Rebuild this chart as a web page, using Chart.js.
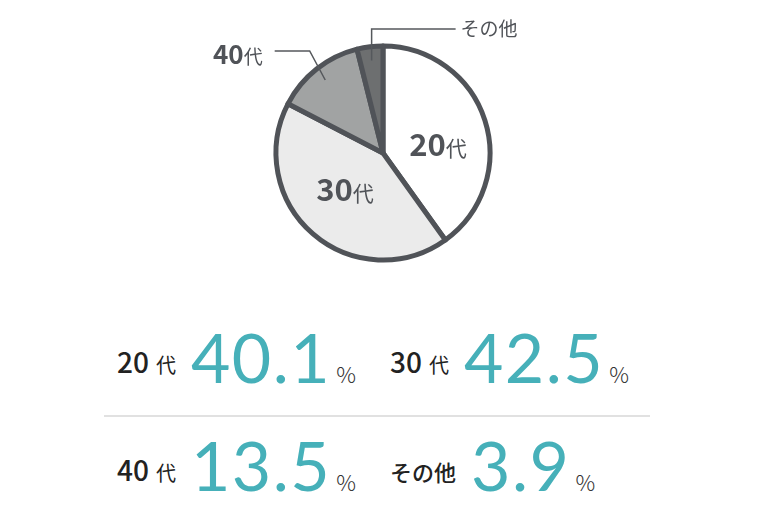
<!DOCTYPE html>
<html><head><meta charset="utf-8">
<script src="https://cdn.jsdelivr.net/npm/chart.js@4/dist/chart.umd.min.js"></script>
<style>
html,body{margin:0;padding:0;background:#fff;width:760px;height:532px;overflow:hidden;font-family:"Noto Sans CJK JP","Noto Sans",sans-serif;}
#wrap{position:absolute;left:0;top:0;width:760px;height:300px;}
.cell{position:absolute;display:flex;align-items:baseline;white-space:nowrap;line-height:1;}
.lab{color:#222;position:relative;}
.lab b{font-weight:500;font-size:28px;}
.lab small{font-size:20px;margin-left:7px;font-weight:400;}
.lab .kana{font-size:22px;font-weight:500;}
.num{font-family:Lato,sans-serif;font-weight:400;font-size:68px;color:#46b0b9;margin-left:15px;letter-spacing:1.5px;}
.pct{font-size:22px;color:#333;margin-left:5px;font-family:"Noto Sans CJK JP",sans-serif;font-weight:300;}
#divider{position:absolute;left:104px;top:415px;width:546px;height:2px;background:#e1e1e1;}
</style></head>
<body>
<div id="wrap"><canvas id="c" width="760" height="300"></canvas></div>
<div id="divider"></div>
<div id="stats"></div>
<script>
// ---- data ----
const categories = ['20代', '30代', '40代', 'その他'];
const shares = [40.1, 42.5, 13.5, 3.9];
const shareLabels = ['40.1', '42.5', '13.5', '3.9'];
const percentSign = '%';

// ---- styles ----
const sliceColors = ['#ffffff', '#ebebeb', '#a1a3a3', '#6d6f70'];
const edgeColor = '#505358';
const labelModes = ['inside', 'inside', 'left', 'up'];
const insideOffsets = [[4, 8], [-3, -3], [0, 0], [0, 0]];
const elbowOffsets = [[0, 0], [0, 0], [5, -3], [0, 0]];
const cellPos = [[117, 0], [390, 0], [117, 1], [390, 1]];
const rowTops = [323, 431];
const labelLift = [10, 10];

function splitLabel(s){
  const m = s.match(/^(\d+)(.*)$/);
  return m ? [m[1], m[2]] : ['', s];
}

const labelPlugin = {
  id: 'pieLabels',
  afterDatasetsDraw(chart){
    const ctx = chart.ctx;
    const meta = chart.getDatasetMeta(0);
    meta.data.forEach((arc, i) => {
      const p = arc.getProps(['x','y','startAngle','endAngle','outerRadius'], true);
      const a = (p.startAngle + p.endAngle) / 2;
      const R = p.outerRadius;
      const pt = r => ({x: p.x + r * Math.cos(a), y: p.y + r * Math.sin(a)});
      const [num, suf] = splitLabel(categories[i]);
      ctx.save();
      ctx.fillStyle = edgeColor;
      ctx.strokeStyle = '#55585c';
      ctx.lineWidth = 1.5;
      ctx.textBaseline = 'alphabetic';
      const mode = labelModes[i];
      if (mode === 'inside') {
        const c = pt(0.5 * R);
        const cx = c.x + insideOffsets[i][0], cy = c.y + insideOffsets[i][1];
        ctx.font = 'bold 31px "Noto Sans CJK JP"';
        const w1 = ctx.measureText(num).width;
        ctx.font = '21px "Noto Sans CJK JP"';
        const w2 = ctx.measureText(suf).width;
        const x0 = cx - (w1 + w2) / 2;
        const base = cy + 11;
        ctx.font = 'bold 31px "Noto Sans CJK JP"';
        ctx.textAlign = 'left';
        ctx.fillText(num, x0, base);
        ctx.font = '21px "Noto Sans CJK JP"';
        ctx.fillText(suf, x0 + w1, base);
      } else if (mode === 'left') {
        const p0 = pt(0.87 * R), q = pt(1.18 * R);
        const p1 = {x: q.x + elbowOffsets[i][0], y: q.y + elbowOffsets[i][1]};
        const p2 = {x: p1.x - 35, y: p1.y};
        ctx.beginPath(); ctx.moveTo(p0.x, p0.y); ctx.lineTo(p1.x, p1.y); ctx.lineTo(p2.x, p2.y); ctx.stroke();
        ctx.font = '19px "Noto Sans CJK JP"';
        const w2 = ctx.measureText(suf).width;
        ctx.textAlign = 'right';
        const base = p2.y + 13;
        ctx.fillText(suf, p2.x - 12, base);
        ctx.font = 'bold 26px "Noto Sans CJK JP"';
        ctx.fillText(num, p2.x - 12 - w2, base);
      } else if (mode === 'up') {
        const p0 = pt(0.87 * R);
        const p1 = {x: p0.x, y: p.y - 1.16 * R};
        const p2 = {x: p1.x + 84, y: p1.y};
        ctx.beginPath(); ctx.moveTo(p0.x, p0.y); ctx.lineTo(p1.x, p1.y); ctx.lineTo(p2.x, p2.y); ctx.stroke();
        ctx.font = '19px "Noto Sans CJK JP"';
        ctx.textAlign = 'left';
        ctx.textBaseline = 'middle';
        ctx.fillText(categories[i], p2.x + 5, p2.y);
      }
      ctx.restore();
    });
  }
};

new Chart(document.getElementById('c'), {
  type: 'pie',
  data: {
    labels: categories,
    datasets: [{
      data: shares,
      backgroundColor: sliceColors,
      borderColor: edgeColor,
      borderWidth: 5,
      borderJoinStyle: 'round'
    }]
  },
  options: {
    responsive: false,
    animation: false,
    radius: 107,
    layout: {padding: {left: 6, top: 6}},
    plugins: {legend: {display: false}, tooltip: {enabled: false}}
  },
  plugins: [labelPlugin]
});

// ---- stats ----
const stats = document.getElementById('stats');
categories.forEach((cat, i) => {
  const [num, suf] = splitLabel(cat);
  const d = document.createElement('div');
  d.className = 'cell';
  d.style.left = cellPos[i][0] + 'px';
  d.style.top = rowTops[cellPos[i][1]] + 'px';
  const lab = document.createElement('span');
  lab.className = 'lab';
  lab.style.top = (-labelLift[cellPos[i][1]]) + 'px';
  if (num) {
    const b = document.createElement('b'); b.textContent = num;
    const s = document.createElement('small'); s.textContent = suf;
    lab.appendChild(b); lab.appendChild(s);
  } else {
    const k = document.createElement('span'); k.className = 'kana'; k.textContent = suf;
    lab.appendChild(k);
  }
  const n = document.createElement('span'); n.className = 'num'; n.textContent = shareLabels[i];
  const pc = document.createElement('span'); pc.className = 'pct'; pc.textContent = percentSign;
  d.appendChild(lab); d.appendChild(n); d.appendChild(pc);
  stats.appendChild(d);
});
</script>
</body></html>
